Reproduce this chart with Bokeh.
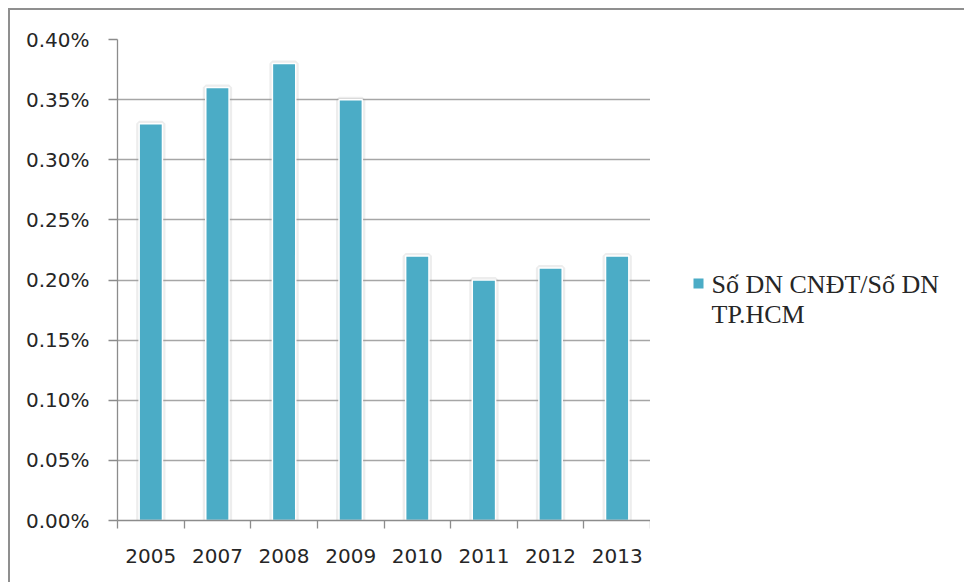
from bokeh.plotting import figure
from bokeh.layouts import row
from bokeh.models import Range1d, LinearAxis, FixedTicker, NumeralTickFormatter, ColumnDataSource
from bokeh.core.properties import value
from bokeh.embed import file_html
from bokeh.resources import INLINE

# Share of FDI-invested enterprises among all enterprises in HCMC, by year
years = ["2005", "2007", "2008", "2009", "2010", "2011", "2012", "2013"]
share = [0.0033, 0.0036, 0.0038, 0.0035, 0.0022, 0.0020, 0.0021, 0.0022]
y_ticks = [0.0, 0.0005, 0.0010, 0.0015, 0.0020, 0.0025, 0.0030, 0.0035, 0.0040]
series_label = ["Số DN CNĐT/Số DN", "TP.HCM"]

BAR = "#4bacc6"
GRID = "#a6a6a6"
AXIS = "#8c8c8c"
TXT = "#262626"

W_CHART, W_KEY, H = 640, 314, 572

# one slot per year; bars sit in the middle of their slot
slot_mid = [i + 0.5 for i in range(len(years))]
slot_edges = list(range(len(years) + 1))
src = ColumnDataSource(dict(x=slot_mid, year=years, share=share))

p = figure(width=W_CHART, height=H, output_backend="svg", toolbar_location=None,
           x_range=Range1d(0, len(years)), y_range=Range1d(0, 0.0040),
           x_axis_location=None, y_axis_location=None,
           min_border_left=107, min_border_right=0, min_border_top=29, min_border_bottom=62)
p.outline_line_color = None
p.background_fill_color = "white"
p.border_fill_color = "white"

# axis line with ticks on the slot boundaries
tick_axis = LinearAxis(ticker=FixedTicker(ticks=slot_edges),
                       axis_line_color=AXIS, axis_line_width=1.3,
                       major_tick_line_color=AXIS, major_tick_line_width=1.3,
                       major_tick_out=8, major_tick_in=0, minor_tick_line_color=None,
                       major_label_text_color=None, major_label_text_font_size="1px",
                       major_label_standoff=0)
p.add_layout(tick_axis, "below")

# year labels under the slot centres
label_axis = LinearAxis(ticker=FixedTicker(ticks=slot_mid),
                        major_label_overrides={m: y for m, y in zip(slot_mid, years)},
                        axis_line_color=None, major_tick_line_color=None,
                        minor_tick_line_color=None, major_label_standoff=14,
                        major_label_text_font="DejaVu Sans", major_label_text_font_size="20px",
                        major_label_text_color=TXT)
p.add_layout(label_axis, "below")

y_axis = LinearAxis(ticker=FixedTicker(ticks=y_ticks), formatter=NumeralTickFormatter(format="0.00%"),
                    axis_line_color=AXIS, axis_line_width=1.3,
                    major_tick_line_color=AXIS, major_tick_line_width=1.3,
                    major_tick_out=9, major_tick_in=0, minor_tick_line_color=None,
                    major_label_standoff=19, major_label_text_font="DejaVu Sans",
                    major_label_text_font_size="20px", major_label_text_color=TXT)
p.add_layout(y_axis, "left")

p.xgrid.grid_line_color = None
p.ygrid.ticker = FixedTicker(ticks=y_ticks)
p.ygrid.grid_line_color = GRID
p.ygrid.grid_line_width = 1.3

# soft shadow then the bars
p.vbar(x="x", top="share", width=0.35, source=src, fill_color="#9a9a9a", fill_alpha=0.18,
       line_color="#9a9a9a", line_alpha=0.18, line_width=6)
p.vbar(x="x", top="share", width=0.35, source=src, fill_color=BAR,
       line_color="white", line_width=1.5)

# key panel on the right, laid out in pixel units (y measured down from the top)
key = figure(frame_width=W_KEY, frame_height=H, output_backend="svg", toolbar_location=None,
             x_range=Range1d(0, W_KEY), y_range=Range1d(H, 0),
             x_axis_location=None, y_axis_location=None,
             min_border_left=0, min_border_right=0, min_border_top=0, min_border_bottom=0)
key.outline_line_color = None
key.grid.visible = False
key.background_fill_color = "white"
key.border_fill_color = "white"
key.scatter(x=[48], y=[244], marker="square", size=10, fill_color=BAR, line_color=None)
key.text(x=[61, 61], y=[245, 275], text=series_label, text_baseline="middle",
         text_font=value("Liberation Serif"), text_font_size="26px", text_color=TXT)

layout = row(p, key)
layout.margin = (10, 0, 0, 10)
layout.styles = {"outline": "2px solid #8f8f8f"}

open("out.html", "w").write(file_html(layout, INLINE))
